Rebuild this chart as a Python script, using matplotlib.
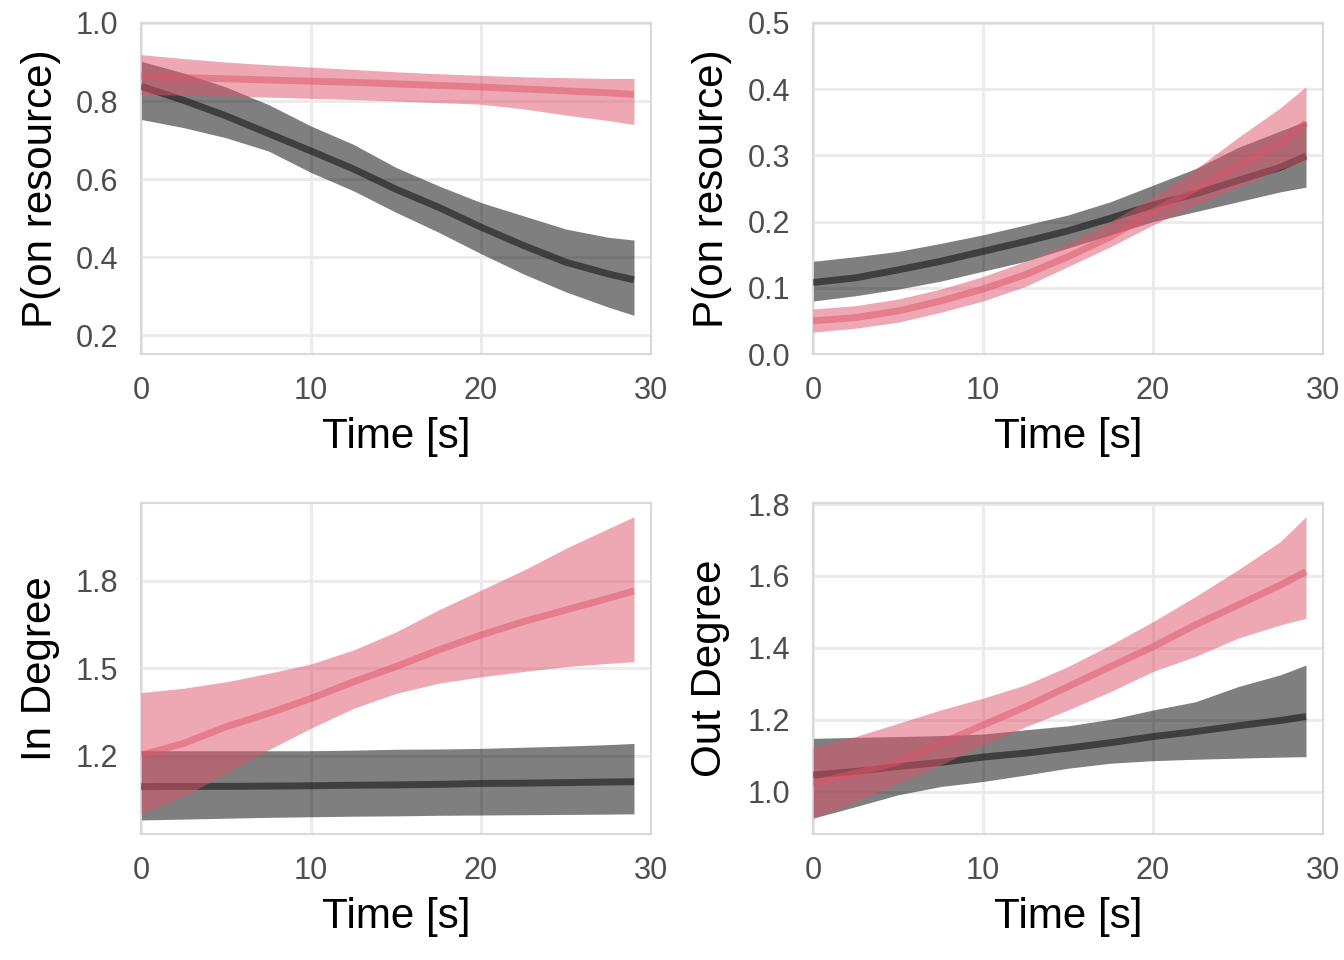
import matplotlib
matplotlib.use("Agg")
import matplotlib.pyplot as plt

plt.rcParams['font.family'] = ['Liberation Sans', 'DejaVu Sans']

# time points
time = [0, 2.5, 5, 7.5, 10, 12.5, 15, 17.5, 20, 22.5, 25, 27.5, 29]

# panel 1: P(on resource), decreasing
p1_gray = [0.838, 0.802, 0.762, 0.717, 0.672, 0.626, 0.574, 0.528, 0.477, 0.430, 0.387, 0.357, 0.342]
p1_gray_hi = [0.902, 0.872, 0.836, 0.791, 0.736, 0.689, 0.630, 0.583, 0.540, 0.506, 0.472, 0.451, 0.444]
p1_gray_lo = [0.753, 0.732, 0.706, 0.672, 0.617, 0.570, 0.515, 0.464, 0.409, 0.357, 0.311, 0.272, 0.251]
p1_pink = [0.864, 0.860, 0.857, 0.854, 0.851, 0.848, 0.844, 0.840, 0.836, 0.831, 0.826, 0.821, 0.817]
p1_pink_hi = [0.919, 0.909, 0.900, 0.893, 0.887, 0.881, 0.875, 0.870, 0.866, 0.862, 0.860, 0.858, 0.858]
p1_pink_lo = [0.817, 0.815, 0.813, 0.810, 0.807, 0.804, 0.800, 0.796, 0.792, 0.780, 0.764, 0.750, 0.740]

# panel 2: P(on resource), increasing
p2_gray = [0.108, 0.115, 0.127, 0.140, 0.155, 0.170, 0.186, 0.205, 0.225, 0.242, 0.262, 0.282, 0.299]
p2_gray_hi = [0.140, 0.147, 0.155, 0.167, 0.180, 0.195, 0.210, 0.230, 0.255, 0.280, 0.312, 0.337, 0.352]
p2_gray_lo = [0.080, 0.088, 0.098, 0.110, 0.125, 0.140, 0.160, 0.180, 0.200, 0.215, 0.230, 0.245, 0.252]
p2_pink = [0.050, 0.055, 0.065, 0.080, 0.098, 0.120, 0.147, 0.177, 0.215, 0.250, 0.284, 0.319, 0.349]
p2_pink_hi = [0.068, 0.073, 0.083, 0.098, 0.117, 0.140, 0.167, 0.200, 0.237, 0.279, 0.327, 0.372, 0.404]
p2_pink_lo = [0.033, 0.039, 0.048, 0.063, 0.080, 0.102, 0.132, 0.162, 0.195, 0.225, 0.252, 0.279, 0.292]

# panel 3: In Degree
p3_gray = [1.095, 1.096, 1.096, 1.097, 1.098, 1.100, 1.101, 1.103, 1.106, 1.107, 1.109, 1.111, 1.112]
p3_gray_hi = [1.218, 1.218, 1.218, 1.218, 1.218, 1.220, 1.223, 1.224, 1.226, 1.230, 1.234, 1.239, 1.243]
p3_gray_lo = [0.981, 0.984, 0.987, 0.990, 0.992, 0.994, 0.995, 0.997, 0.998, 0.999, 1.000, 1.001, 1.002]
p3_pink = [1.203, 1.243, 1.300, 1.346, 1.397, 1.454, 1.506, 1.563, 1.614, 1.660, 1.700, 1.740, 1.765]
p3_pink_hi = [1.417, 1.432, 1.454, 1.483, 1.515, 1.563, 1.625, 1.700, 1.768, 1.836, 1.911, 1.979, 2.019]
p3_pink_lo = [1.002, 1.061, 1.141, 1.221, 1.295, 1.363, 1.414, 1.449, 1.471, 1.489, 1.506, 1.517, 1.523]

# panel 4: Out Degree
p4_gray = [1.046, 1.056, 1.070, 1.081, 1.096, 1.107, 1.121, 1.136, 1.153, 1.167, 1.183, 1.198, 1.209]
p4_gray_hi = [1.148, 1.151, 1.153, 1.156, 1.160, 1.172, 1.183, 1.201, 1.227, 1.250, 1.292, 1.325, 1.352]
p4_gray_lo = [0.926, 0.958, 0.991, 1.014, 1.028, 1.046, 1.065, 1.079, 1.086, 1.090, 1.093, 1.096, 1.097]
p4_pink = [1.023, 1.051, 1.083, 1.134, 1.185, 1.236, 1.292, 1.348, 1.403, 1.464, 1.519, 1.575, 1.612]
p4_pink_hi = [1.123, 1.153, 1.190, 1.227, 1.260, 1.297, 1.348, 1.408, 1.473, 1.543, 1.617, 1.696, 1.765]
p4_pink_lo = [0.926, 0.972, 1.023, 1.074, 1.130, 1.180, 1.227, 1.278, 1.334, 1.376, 1.427, 1.464, 1.482]

x_ticks = [0, 10, 20, 30]
panels = [
    dict(ylabel="P(on resource)", ylim=(0.152, 1.0), yticks=[0.2, 0.4, 0.6, 0.8, 1.0],
         data=(p1_gray, p1_gray_lo, p1_gray_hi, p1_pink, p1_pink_lo, p1_pink_hi)),
    dict(ylabel="P(on resource)", ylim=(0.0, 0.5), yticks=[0.0, 0.1, 0.2, 0.3, 0.4, 0.5],
         data=(p2_gray, p2_gray_lo, p2_gray_hi, p2_pink, p2_pink_lo, p2_pink_hi)),
    dict(ylabel="In Degree", ylim=(0.933, 2.066), yticks=[1.2, 1.5, 1.8],
         data=(p3_gray, p3_gray_lo, p3_gray_hi, p3_pink, p3_pink_lo, p3_pink_hi)),
    dict(ylabel="Out Degree", ylim=(0.882, 1.803), yticks=[1.0, 1.2, 1.4, 1.6, 1.8],
         data=(p4_gray, p4_gray_lo, p4_gray_hi, p4_pink, p4_pink_lo, p4_pink_hi)),
]

W, H = 1344, 960
fig = plt.figure(figsize=(7, 5), dpi=192)

# axes boxes in pixels: left, right, top, bottom, y-label centre x
boxes = [(141, 651, 23, 354, 41), (813, 1323, 23, 354, 712),
         (141, 651, 503, 834, 40), (813, 1323, 503, 834, 710)]

pink = "#DF536B"
for box, p in zip(boxes, panels):
    l, r, t, b, yl = box
    ax = fig.add_axes([l / W, 1 - b / H, (r - l) / W, (b - t) / H])
    g, glo, ghi, pk, plo, phi = p["data"]
    ax.fill_between(time, glo, ghi, color="black", alpha=0.5, lw=0, zorder=2)
    ax.plot(time, g, color="black", alpha=0.5, lw=2.6, zorder=3, solid_capstyle="butt")
    ax.fill_between(time, plo, phi, color=pink, alpha=0.5, lw=0, zorder=4)
    ax.plot(time, pk, color=pink, alpha=0.5, lw=2.6, zorder=5, solid_capstyle="butt")

    ax.set_xlim(0, 30)
    ax.set_ylim(*p["ylim"])
    ax.set_xticks(x_ticks)
    ax.set_xticklabels([str(v) for v in x_ticks])
    ax.set_yticks(p["yticks"])
    ax.set_yticklabels(["{:.1f}".format(v) for v in p["yticks"]])
    ax.grid(True, color="#EBEBEB", lw=1.1, zorder=0)
    ax.set_axisbelow(True)
    for s in ax.spines.values():
        s.set_color("#D9D9D9")
        s.set_linewidth(0.8)
    ax.tick_params(length=0, labelsize=11.5, labelcolor="#4D4D4D")
    ax.tick_params(axis="x", pad=8.3)
    ax.tick_params(axis="y", pad=8.5)
    ax.set_xlabel("Time [s]", fontsize=15.8, color="black")
    ax.set_ylabel(p["ylabel"], fontsize=15.8, color="black")
    ax.xaxis.label.set_va("center")
    ax.yaxis.label.set_va("center")
    ax.xaxis.set_label_coords(0.5, -83 / (b - t))
    ax.yaxis.set_label_coords(-(l - yl) / (r - l), 0.5)

fig.savefig("out.png", dpi=192)
